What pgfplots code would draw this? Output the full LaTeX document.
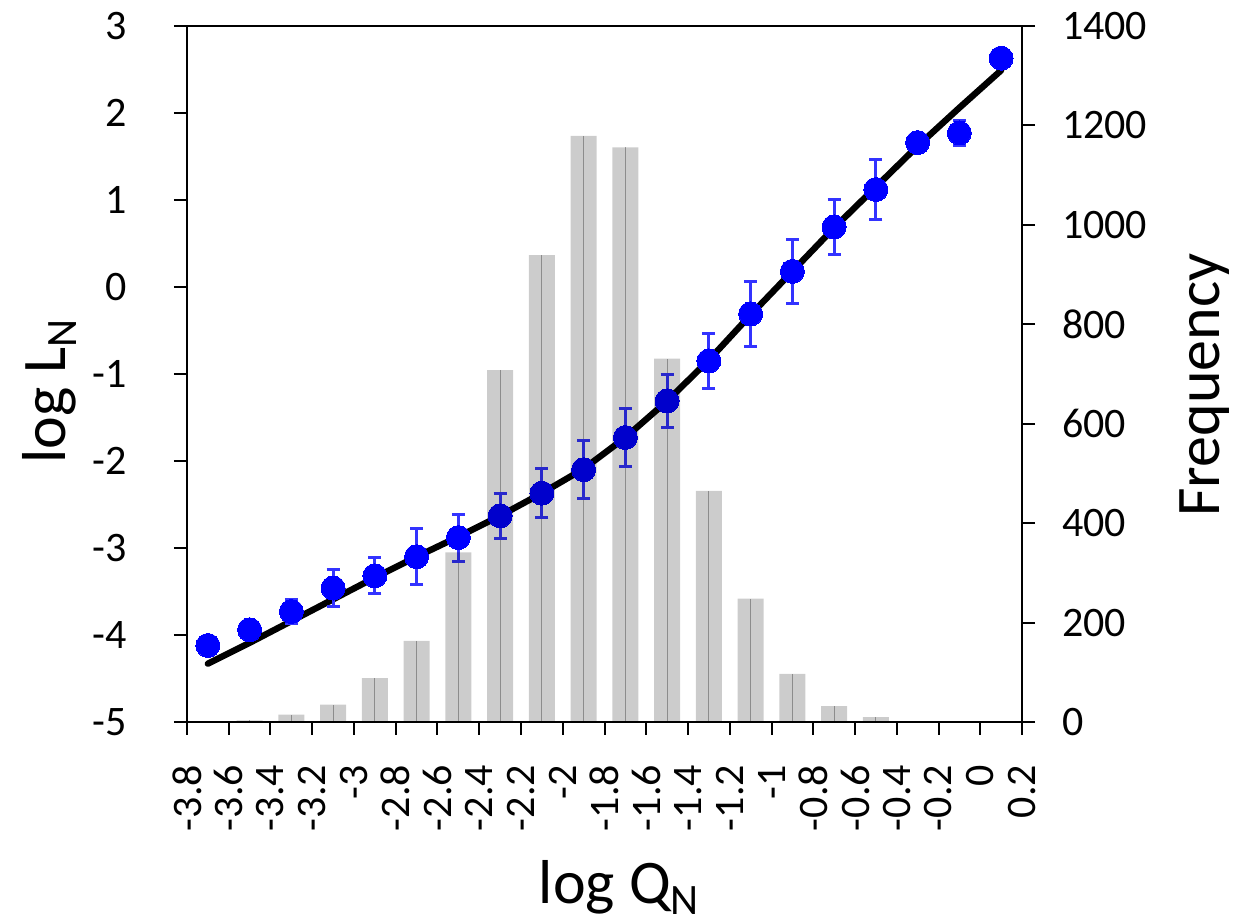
\documentclass[border=0pt]{standalone}
\usepackage{fontspec}
\setmainfont{Carlito}
\usepackage{pgfplots}
\usepackage{pgfplotstable}
\pgfplotsset{compat=1.18}
\definecolor{barg}{RGB}{204,204,204}
\definecolor{midg}{RGB}{175,175,175}
\definecolor{errb}{RGB}{51,51,255}

\pgfplotstableread{
x f
-3.5 3
-3.3 15
-3.1 35
-2.9 88
-2.7 163
-2.5 341
-2.3 708
-2.1 939
-1.9 1179
-1.7 1156
-1.5 731
-1.3 465
-1.1 248
-0.9 97
-0.7 32
-0.5 10
}\freqtable

\pgfplotstableread{
x y e
-3.7 -4.12 0.05
-3.5 -3.94 0.05
-3.3 -3.73 0.14
-3.1 -3.46 0.215
-2.9 -3.32 0.205
-2.7 -3.10 0.32
-2.5 -2.88 0.27
-2.3 -2.63 0.26
-2.1 -2.37 0.28
-1.9 -2.10 0.33
-1.7 -1.73 0.33
-1.5 -1.31 0.30
-1.3 -0.85 0.32
-1.1 -0.31 0.37
-0.9 0.18 0.37
-0.7 0.69 0.32
-0.5 1.12 0.35
-0.3 1.66 0.05
-0.1 1.77 0.14
0.1 2.63 0.05
}\pointtable

\pgfplotstableread{
x y
-3.7 -4.33
-3.5 -4.09
-3.3 -3.84
-3.1 -3.59
-2.9 -3.34
-2.7 -3.10
-2.5 -2.87
-2.3 -2.63
-2.1 -2.37
-1.9 -2.09
-1.7 -1.73
-1.5 -1.31
-1.3 -0.84
-1.1 -0.32
-0.9 0.18
-0.7 0.68
-0.5 1.15
-0.3 1.62
-0.1 2.06
0.1 2.49
}\fittable

\pgfplotsset{
  common/.style={
    scale only axis, width=417.5pt, height=348pt,
    xmin=-3.8, xmax=0.2,
    tick align=outside,
    major tick length=6.5pt,
    tick style={line width=1pt, black},
    axis line style={line width=1pt},
    tick label style={font=\fontsize{21pt}{25pt}\selectfont},
  }
}

\begin{document}
\begin{tikzpicture}
\useasboundingbox (-93.5pt,-101pt) rectangle (525.5pt,361pt);

% frequency axis (right) with bar middle lines
\begin{axis}[common,
  ymin=0, ymax=1400,
  hide x axis,
  axis y line*=right,
  ytick={0,200,400,600,800,1000,1200,1400},
  yticklabels={0,200,400,600,800,1000,1200,1400},
  yticklabel style={anchor=west, xshift=10pt},
  ylabel={Frequency},
  every axis y label/.style={at={(axis description cs:1.219,0.484)}, rotate=90, anchor=center, font=\fontsize{31pt}{37pt}\selectfont},
]
\addplot[ycomb, draw=midg, line width=0.6pt, mark=none] table[x=x,y=f]{\freqtable};
\end{axis}

% main axis
\begin{axis}[common,
  ymin=-5, ymax=3,
  xtick pos=lower, ytick pos=left,
  xtick={-3.8,-3.6,-3.4,-3.2,-3,-2.8,-2.6,-2.4,-2.2,-2,-1.8,-1.6,-1.4,-1.2,-1,-0.8,-0.6,-0.4,-0.2,0,0.2},
  xticklabels={-3.8,-3.6,-3.4,-3.2,-3,-2.8,-2.6,-2.4,-2.2,-2,-1.8,-1.6,-1.4,-1.2,-1,-0.8,-0.6,-0.4,-0.2,0,0.2},
  xticklabel style={yshift=-11.5pt, rotate=90, anchor=east},
  ytick={-5,-4,-3,-2,-1,0,1,2,3},
  yticklabels={-5,-4,-3,-2,-1,0,1,2,3},
  yticklabel style={anchor=east, xshift=-20pt},
  ylabel={log L\textsubscript{N}},
  every axis y label/.style={at={(axis description cs:-0.165,0.476)}, rotate=90, anchor=center, font=\fontsize{31pt}{37pt}\selectfont},
  xlabel={log Q\textsubscript{N}},
  every axis x label/.style={at={(axis description cs:0.413,-0.261)}, anchor=base west, font=\fontsize{31pt}{37pt}\selectfont},
  clip=false,
]
\addplot[black, line width=3.2pt, line join=round, line cap=round, mark=none] table[x=x,y=y]{\fittable};
\addplot[only marks, mark=*, mark size=6pt, mark options={fill=blue, draw=blue, line width=0pt},
  error bars/.cd, y dir=both, y explicit,
  error bar style={line width=1.5pt, draw=errb},
  error mark options={rotate=90, mark size=3.2pt, line width=1.5pt, draw=errb}]
  table[x=x,y=y,y error=e]{\pointtable};
\end{axis}

% bars on top, multiplied
\begin{axis}[common,
  ymin=0, ymax=1400,
  hide axis,
]
\addplot[ybar, bar width=13pt, bar shift=0pt, fill=barg, draw=none, blend mode=multiply] table[x=x,y=f]{\freqtable};
\end{axis}
\end{tikzpicture}
\end{document}
